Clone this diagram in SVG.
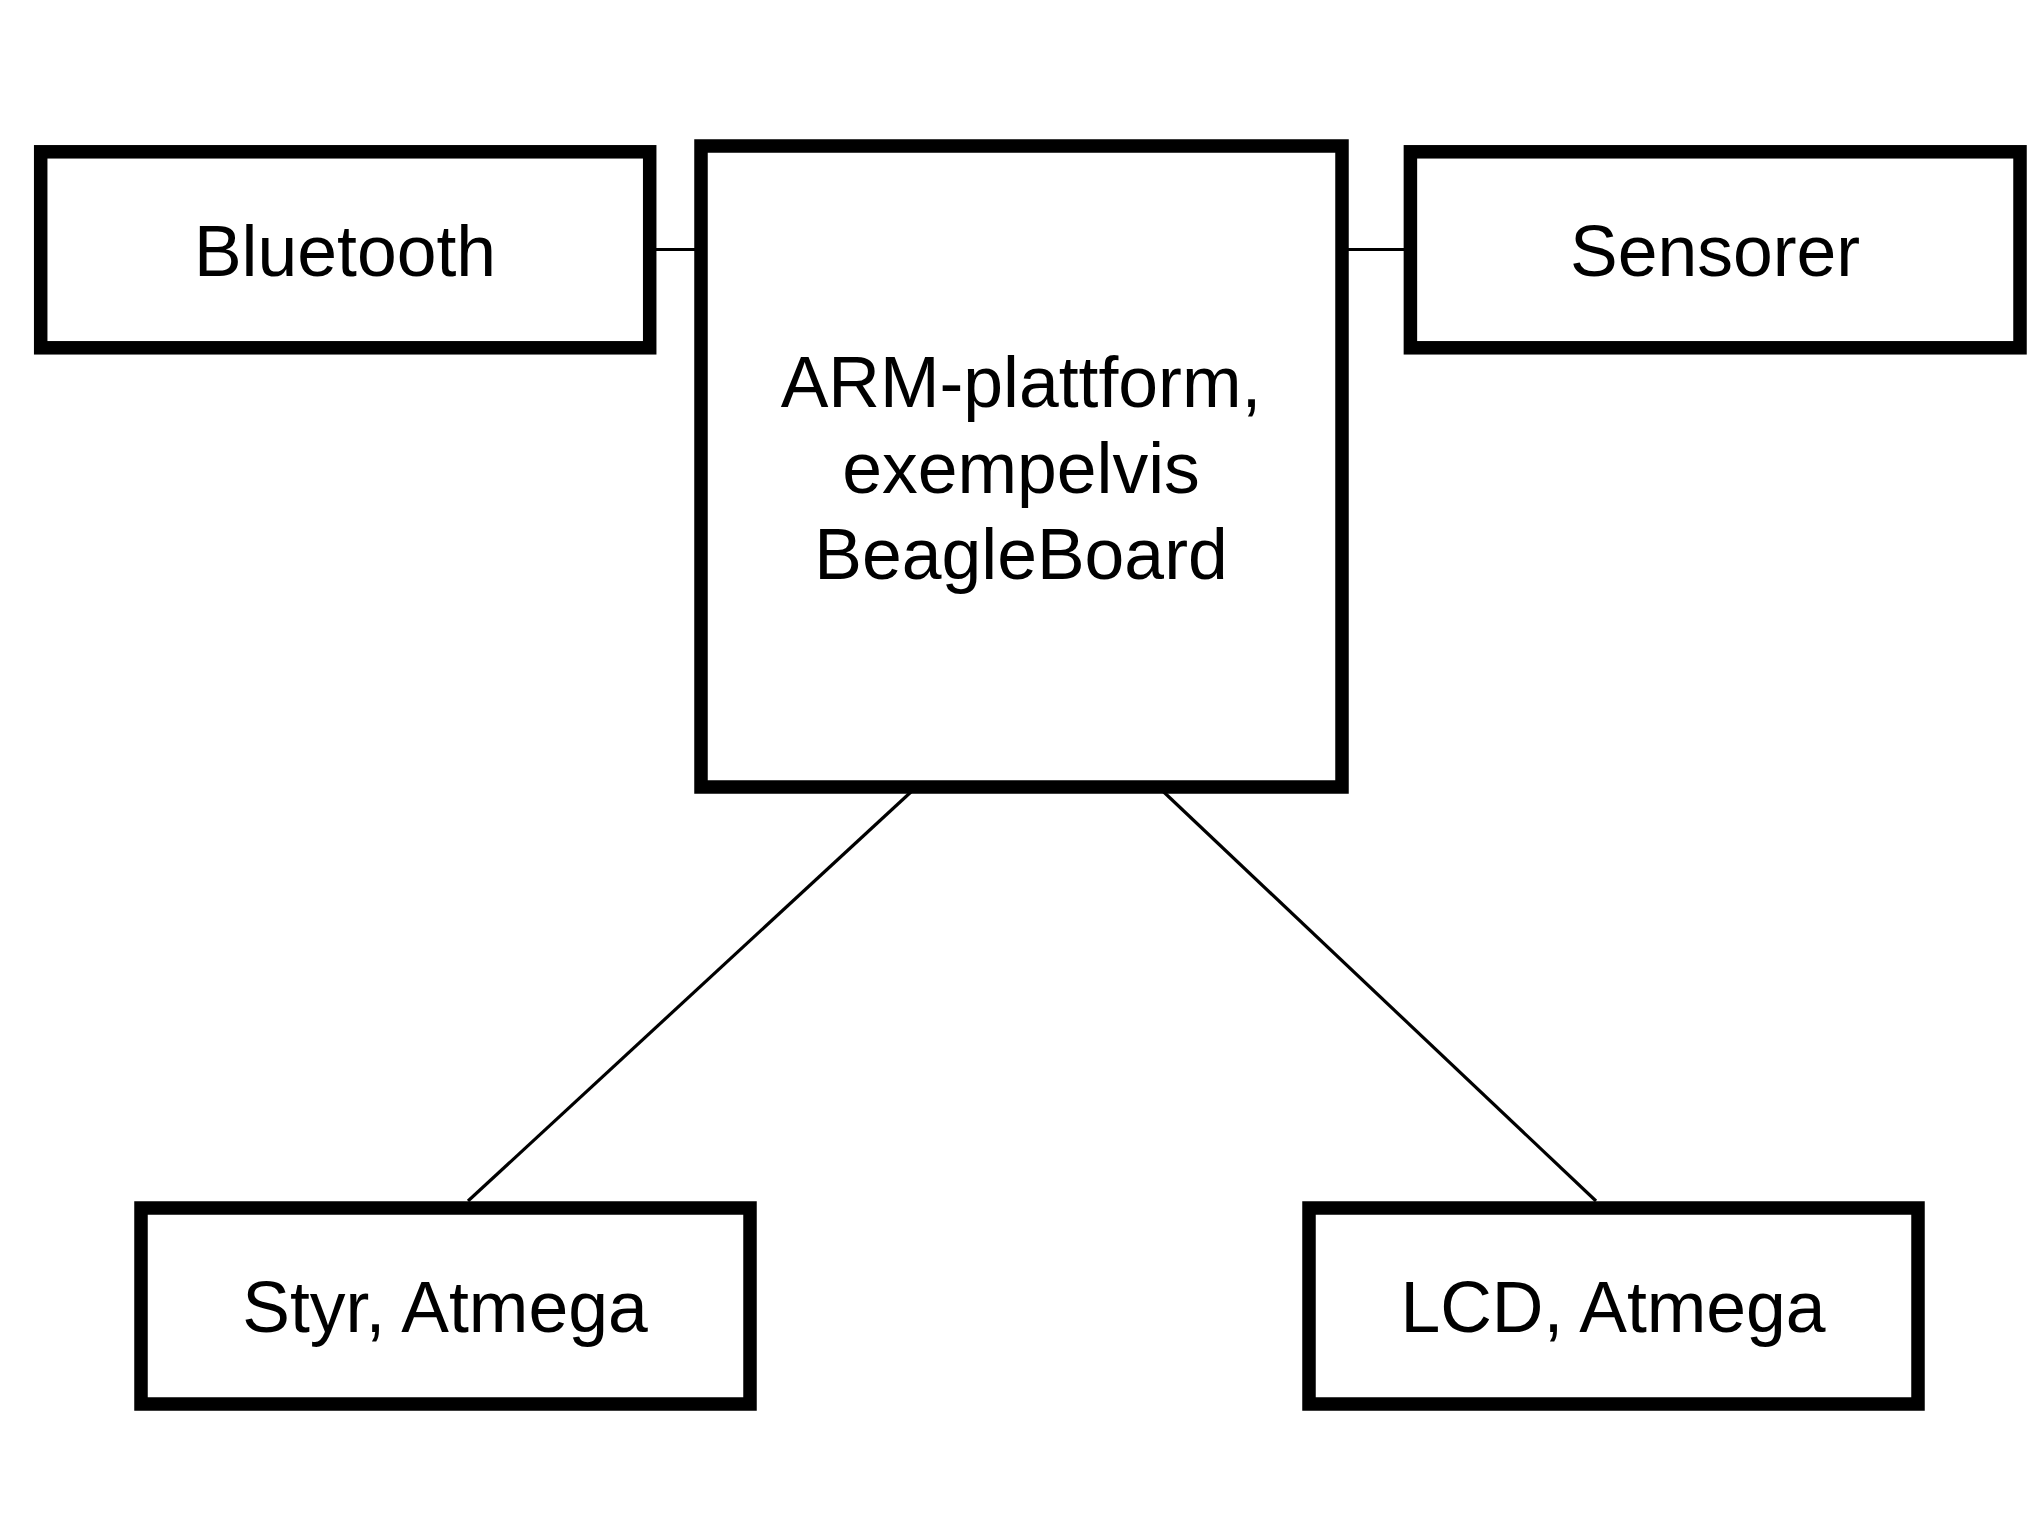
<svg xmlns="http://www.w3.org/2000/svg" width="2040" height="1516" viewBox="0 0 2040 1516">
<style>
.box{fill:#fff;stroke:#000;stroke-width:13.5}
.lbl{font-family:"Liberation Sans",Arial,sans-serif;font-size:71.5px;fill:#000;text-anchor:middle}
.conn{stroke:#000;stroke-width:3.2;fill:none}
</style>
<rect x="0" y="0" width="2040" height="1516" fill="#fff"/>
<g id="connectors">
<line class="conn" x1="650" y1="249.5" x2="701" y2="249.5"/>
<line class="conn" x1="1342" y1="249.5" x2="1410" y2="249.5"/>
<line class="conn" x1="925" y1="779" x2="468" y2="1201"/>
<line class="conn" x1="1150" y1="779" x2="1596" y2="1201"/>
</g>
<g id="bluetooth">
<rect class="box" x="40.7" y="151.8" width="609" height="196"/>
<text class="lbl" x="345" y="276">Bluetooth</text>
</g>
<g id="arm">
<rect class="box" x="701" y="146" width="641" height="641"/>
<text class="lbl" x="1021" y="407">ARM-plattform,</text>
<text class="lbl" x="1021" y="493">exempelvis</text>
<text class="lbl" x="1021" y="579">BeagleBoard</text>
</g>
<g id="sensorer">
<rect class="box" x="1410.4" y="151.8" width="609.6" height="196"/>
<text class="lbl" x="1715" y="276">Sensorer</text>
</g>
<g id="styr">
<rect class="box" x="141" y="1208" width="609" height="196"/>
<text class="lbl" x="445" y="1332">Styr, Atmega</text>
</g>
<g id="lcd">
<rect class="box" x="1309" y="1208" width="609" height="196"/>
<text class="lbl" x="1613" y="1332">LCD, Atmega</text>
</g>
</svg>
